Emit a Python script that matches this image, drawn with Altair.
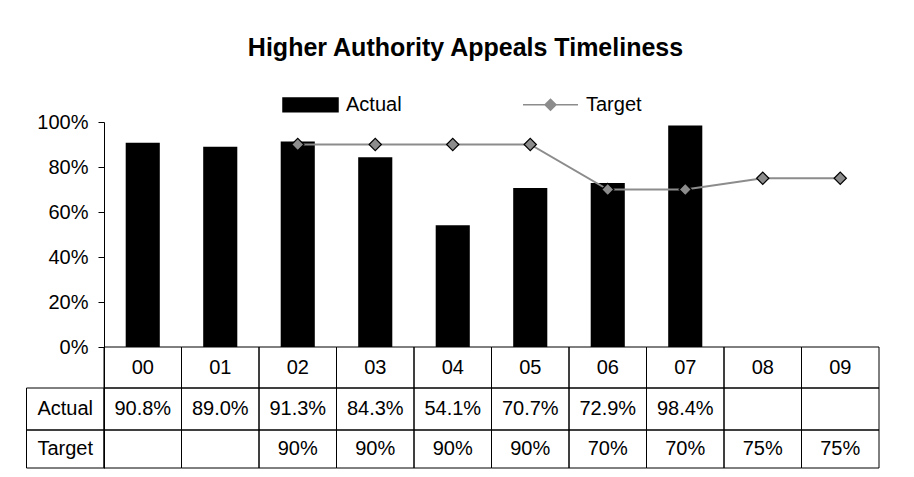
import altair as alt
import pandas as pd

# ---------------- data ----------------
cats = ["00", "01", "02", "03", "04", "05", "06", "07", "08", "09"]
actual = [0.908, 0.890, 0.913, 0.843, 0.541, 0.707, 0.729, 0.984, None, None]
target = [None, None, 0.90, 0.90, 0.90, 0.90, 0.70, 0.70, 0.75, 0.75]
series = ["Actual", "Target"]
chart_title = "Higher Authority Appeals Timeliness"
ytick_values = [0.0, 0.2, 0.4, 0.6, 0.8, 1.0]

# ---------------- layout / style ----------------
FONT = "Liberation Sans"
FS = 20
BAND = 77.5
PLOT_W = BAND * len(cats)
UNIT_PX = 225            # pixels for 0..100 %
ROW_PX = [41, 42, 38]     # header row, Actual row, Target row
LABEL_COL = "rowlabel"
GRAY_LINE = "#8c8c8c"
GRAY_FILL = "#8c8c8c"

edges = [0.0]
for h in ROW_PX:
    edges.append(edges[-1] - h / UNIT_PX)
Y_MIN = edges[-1]
PLOT_H = UNIT_PX * (1 - Y_MIN)

# ---------------- tables built from the arrays ----------------
bar_df = pd.DataFrame({"cat": cats, "value": actual, "series": "Actual"}).dropna()
tgt_df = pd.DataFrame({"cat": cats, "value": target, "series": "Target"}).dropna()

cell_rows = []
for r in range(3):
    cols = list(cats) if r == 0 else [LABEL_COL] + list(cats)
    for c in cols:
        cell_rows.append({"cat": c, "y": edges[r], "y2": edges[r + 1]})
cells_df = pd.DataFrame(cell_rows)

def mid(r):
    return (edges[r] + edges[r + 1]) / 2

text_rows = []
for c in cats:
    text_rows.append({"cat": c, "y": mid(0), "label": c})
for c, v in zip(cats, actual):
    if v is not None:
        text_rows.append({"cat": c, "y": mid(1), "label": f"{v * 100:.1f}%"})
for c, v in zip(cats, target):
    if v is not None:
        text_rows.append({"cat": c, "y": mid(2), "label": f"{v * 100:.0f}%"})
text_rows.append({"cat": LABEL_COL, "y": mid(1), "label": series[0]})
text_rows.append({"cat": LABEL_COL, "y": mid(2), "label": series[1]})
text_df = pd.DataFrame(text_rows)

# ---------------- scales / axes ----------------
xscale = alt.Scale(domain=[LABEL_COL] + cats, range=[-BAND, PLOT_W],
                   paddingInner=0, paddingOuter=0)
yscale = alt.Scale(domain=[Y_MIN, 1.0], nice=False, zero=False)
yaxis = alt.Axis(values=ytick_values, format=".0%", title=None, grid=False,
                 domainColor="black", tickColor="black", tickSize=6,
                 labelFont=FONT, labelFontSize=FS, labelColor="black",
                 labelPadding=10, domainWidth=1, tickWidth=1)

X = alt.X("cat:N", scale=xscale, axis=None, sort=None)

def Y(field):
    return alt.Y(f"{field}:Q", scale=yscale, axis=yaxis)

rect_path = "M-1,-0.25L1,-0.25L1,0.25L-1,0.25Z"
line_path = "M-1,0L-0.2,0M0.2,0L1,0M-0.2,0L0,-0.2L0.2,0L0,0.2Z"
legend = alt.Legend(
    title=None, orient="none", legendX=178, legendY=-46, direction="horizontal",
    labelFont=FONT, labelFontSize=FS, labelColor="black", labelOffset=7,
    symbolSize=3025, columnPadding=118, padding=0,
    symbolType={"expr": f"datum.value === 'Actual' ? '{rect_path}' : '{line_path}'"},
    symbolStrokeWidth=1.5, symbolOpacity=1,
)
cscale = alt.Scale(domain=series, range=["black", GRAY_LINE])
C = alt.Color("series:N", scale=cscale, legend=legend)

cells = alt.Chart(cells_df).mark_rect(fillOpacity=0, stroke="black", strokeWidth=1).encode(
    x=X, y=Y("y"), y2="y2:Q")
bars = alt.Chart(bar_df).mark_bar(width=alt.RelativeBandSize(0.44)).encode(
    x=X, y=Y("value"), color=C)
line = alt.Chart(tgt_df).mark_line(strokeWidth=2).encode(x=X, y=Y("value"), color=C)
points = alt.Chart(tgt_df).mark_point(shape="diamond", filled=True, fill=GRAY_FILL,
                                      stroke="black", strokeWidth=1.2, size=150,
                                      opacity=1).encode(x=X, y=Y("value"))
texts = alt.Chart(text_df).mark_text(font=FONT, fontSize=FS, color="black",
                                     align="center", baseline="middle").encode(
    x=X, y=Y("y"), text="label:N")

chart = alt.layer(cells, bars, line, points, texts).properties(
    width=PLOT_W, height=PLOT_H,
    title=alt.TitleParams(text=chart_title, font=FONT, fontSize=25, fontWeight="bold",
                          color="black", anchor="middle", frame="group", dx=-26, dy=-11),
    autosize=alt.AutoSizeParams(type="none"),
    padding={"left": 96, "top": 114, "right": 27, "bottom": 2},
).configure(background="white").configure_view(strokeWidth=0, stroke="transparent")

chart.save("out.html", embed_options={"renderer": "svg", "actions": False})
